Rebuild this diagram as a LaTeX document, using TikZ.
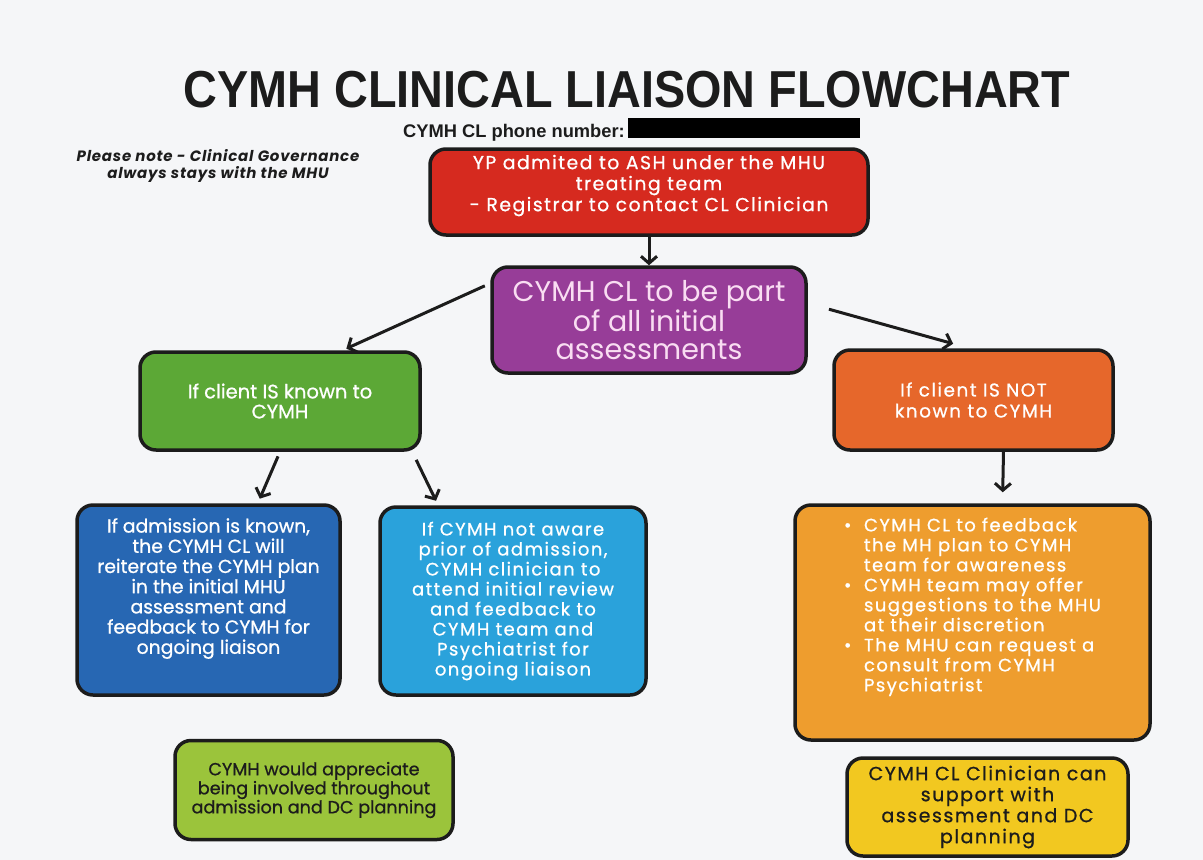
\documentclass[tikz,border=0pt]{standalone}
\usepackage{fontspec}
\setmainfont{Poppins}
\newfontfamily\titlefont{Liberation Sans}
\newfontfamily\boxfont{Poppins}[FakeBold=0.8]
\newfontfamily\widefont{Poppins}[FakeBold=0.8,LetterSpace=8]
\newfontfamily\notefont{Poppins}[LetterSpace=5]
\usetikzlibrary{arrows.meta}
\definecolor{paper}{HTML}{F5F6F8}
\definecolor{ink}{HTML}{1C1C1C}
\definecolor{redbox}{HTML}{D62A1F}
\definecolor{purplebox}{HTML}{973D98}
\definecolor{purpletext}{HTML}{F9DDF2}
\definecolor{greenbox}{HTML}{5CA836}
\definecolor{rustbox}{HTML}{E6672B}
\definecolor{bluebox}{HTML}{2767B3}
\definecolor{skybox}{HTML}{2AA2DB}
\definecolor{orangebox}{HTML}{EE9D2E}
\definecolor{limebox}{HTML}{9BC43B}
\definecolor{yellowbox}{HTML}{F2C820}
\newcommand\bul{\makebox[20pt][l]{\textbullet}}
\newcommand\ind{\hspace*{20pt}}
\begin{document}
\begin{tikzpicture}[x=1pt,y=-1pt,
    box/.style={draw=ink, line width=3.5pt, rounded corners=16pt, align=center,
      text=white, inner sep=0pt},
    link/.style={draw=ink, line width=3pt, -{Straight Barb[length=7pt,width=16pt]}}]
\fill[paper] (0,0) rectangle (1203,860);
\useasboundingbox (0,0) rectangle (1203,860);
% heading
\node[anchor=base, text=ink, font=\titlefont\bfseries\fontsize{52}{60}\selectfont] (title) at (627,107)
  {\scalebox{0.9}[1]{CYMH CLINICAL LIAISON FLOWCHART}};
\node[anchor=base west, inner sep=0pt, text=ink, font=\titlefont\bfseries\fontsize{18.3}{22}\selectfont] (phone) at (403,137)
  {CYMH CL phone number:};
\fill[black] (628,118) rectangle (860,138);
\node[align=center, text=ink, font=\notefont\bfseries\itshape\fontsize{15}{16.5}\selectfont] (note) at (218,166)
  {Please note - Clinical Governance\\always stays with the MHU};
% boxes
\node[box, fill=redbox, minimum width=438pt, minimum height=86pt, text depth=18pt,
  font=\widefont\fontsize{18.8}{21}\selectfont] (admit) at (649,192)
  {YP admited to ASH under the MHU\\treating team\\- Registrar to contact CL Clinician};
\node[box, fill=purplebox, text=purpletext, minimum width=314pt, minimum height=106pt,
  font=\fontsize{28.5}{28}\selectfont] (assess) at (649,320)
  {CYMH CL to be part\\of all initial\\assessments};
\node[box, fill=greenbox, minimum width=280pt, minimum height=98pt,
  font=\boxfont\fontsize{19.5}{20}\selectfont] (known) at (280,401)
  {If client IS known to\\CYMH};
\node[box, fill=rustbox, minimum width=279pt, minimum height=100pt,
  font=\widefont\fontsize{18.5}{21}\selectfont] (unknown) at (973.5,400)
  {If client IS NOT\\known to CYMH};
\node[box, fill=bluebox, minimum width=263pt, minimum height=190pt, text depth=28pt,
  font=\boxfont\fontsize{18.8}{20.2}\selectfont] (plan) at (208.5,600)
  {If admission is known,\\the CYMH CL will\\reiterate the CYMH plan\\in the initial MHU\\assessment and\\feedback to CYMH for\\ongoing liaison};
\node[box, fill=skybox, minimum width=266pt, minimum height=188pt,
  font=\widefont\fontsize{18}{20}\selectfont] (review) at (513,601)
  {If CYMH not aware\\prior of admission,\\CYMH clinician to\\attend initial review\\and feedback to\\CYMH team and\\Psychiatrist for\\ongoing liaison};
\node[box, fill=orangebox, minimum width=355pt, minimum height=235pt, align=left, text depth=36pt,
  font=\widefont\fontsize{18}{20}\selectfont] (feedback) at (972.5,622.5)
  {\bul CYMH CL to feedback\\\ind the MH plan to CYMH\\\ind team for awareness\\
   \bul CYMH team may offer\\\ind suggestions to the MHU\\\ind at their discretion\\
   \bul The MHU can request a\\\ind consult from CYMH\\\ind Psychiatrist};
\node[box, fill=limebox, text=ink, minimum width=278pt, minimum height=99pt,
  font=\boxfont\fontsize{17.6}{19}\selectfont] (involve) at (314,790)
  {CYMH would appreciate\\being involved throughout\\admission and DC planning};
\node[box, fill=yellowbox, text=ink, minimum width=281pt, minimum height=98pt,
  font=\widefont\fontsize{19}{21}\selectfont] (support) at (987.5,807)
  {CYMH CL Clinician can\\support with\\assessment and DC\\planning};
% arrows
\draw[link] (admit) -- (assess);
\draw[link, shorten <=6pt, shorten >=4pt] (assess.167) -- (known.39);
\draw[link, shorten <=22pt, shorten >=17pt] (assess.6) -- ([xshift=-4pt]unknown.north);
\draw[link, shorten <=5pt, shorten >=5pt] (known.south) -- (plan.63);
\draw[link, shorten <=9pt, shorten >=5pt] (known.-21) -- (review.128);
\draw[link, shorten >=11pt] ([xshift=30pt]unknown.south) -- ([xshift=30pt]feedback.north);
\end{tikzpicture}
\end{document}
